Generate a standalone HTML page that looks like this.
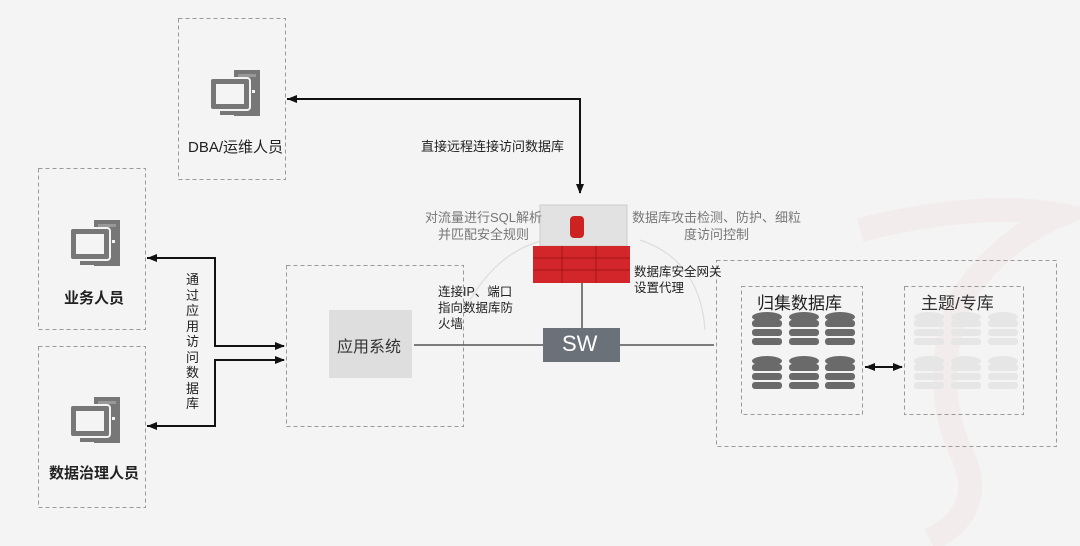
<!DOCTYPE html>
<html><head><meta charset="utf-8"><style>
body{margin:0;width:1080px;height:546px;overflow:hidden;background:#f4f4f4;font-family:"Liberation Sans","Noto Sans CJK SC",sans-serif}
.t{position:absolute;white-space:nowrap;color:#222}
</style></head><body>
<svg width="1080" height="546" style="position:absolute;left:0;top:0">
<defs>
<g id="pc">
<rect x="24" y="0" width="26" height="46" fill="#777"/>
<rect x="28" y="4" width="18" height="3" fill="#999"/>
<rect x="0" y="8" width="40" height="32" rx="3" fill="#777" stroke="#f4f4f4" stroke-width="2"/>
<rect x="6" y="14" width="28" height="20" fill="#f4f4f4"/>
<rect x="10" y="41" width="26" height="4" fill="#777"/>
<rect x="42" y="20" width="3" height="3" fill="#f4f4f4"/>
</g>
<g id="db">
<ellipse cx="15" cy="5" rx="15" ry="5"/>
<rect x="0" y="8" width="30" height="7" rx="3"/>
<rect x="0" y="17" width="30" height="7" rx="3"/>
<rect x="0" y="26" width="30" height="7" rx="3"/>
</g>
<marker id="ah" markerWidth="10" markerHeight="8" refX="9" refY="4" orient="auto" markerUnits="userSpaceOnUse"><path d="M0,0L10,4L0,8z" fill="#111"/></marker>
<marker id="ahs" markerWidth="10" markerHeight="8" refX="10" refY="4" orient="auto-start-reverse" markerUnits="userSpaceOnUse"><path d="M0,0L10,4L0,8z" fill="#111"/></marker>
</defs>
<path d="M860,230 Q980,200 1060,215 Q1000,240 960,300 Q930,380 960,450 Q990,510 930,540" fill="none" stroke="#f1e6e6" stroke-width="24" opacity="0.6"/>
<g fill="none" stroke="#999" stroke-dasharray="4,3">
<rect x="178.5" y="18.5" width="107" height="161"/>
<rect x="38.5" y="168.5" width="107" height="161"/>
<rect x="38.5" y="346.5" width="107" height="161"/>
<rect x="286.5" y="265.5" width="177" height="161"/>
<rect x="716.5" y="260.5" width="340" height="186"/>
<rect x="741.5" y="286.5" width="121" height="128"/>
<rect x="904.5" y="286.5" width="119" height="128"/>
</g>
<use href="#pc" x="210" y="70"/>
<use href="#pc" x="70" y="220"/>
<use href="#pc" x="70" y="397"/>
<path d="M287,99 H580 V193" fill="none" stroke="#111" stroke-width="2" marker-start="url(#ahs)" marker-end="url(#ah)"/>
<path d="M147,258 H215 V346 H284" fill="none" stroke="#111" stroke-width="2" marker-start="url(#ahs)" marker-end="url(#ah)"/>
<path d="M147,426 H215 V360 H284" fill="none" stroke="#111" stroke-width="2" marker-start="url(#ahs)" marker-end="url(#ah)"/>
<rect x="329" y="310" width="83" height="68" fill="#dedede"/>
<line x1="414" y1="345" x2="545" y2="345" stroke="#555" stroke-width="1.5"/>
<line x1="620" y1="345" x2="714" y2="345" stroke="#555" stroke-width="1.5"/>
<line x1="582" y1="283" x2="582" y2="328" stroke="#555" stroke-width="1.5"/>
<path d="M470,300 Q500,250 545,240 M640,240 Q700,260 705,330" fill="none" stroke="#ddd" stroke-width="1.2"/>
<rect x="543" y="328" width="77" height="34" fill="#6b7178"/>
<rect x="540" y="205" width="87" height="41" fill="#e2e2e2" stroke="#ccc"/>
<rect x="570" y="216" width="14" height="22" rx="4" fill="#c22"/>
<rect x="533" y="246" width="97" height="37" fill="#d3262a"/>
<g stroke="#a01518" stroke-width="1"><line x1="533" y1="258" x2="630" y2="258"/><line x1="533" y1="270" x2="630" y2="270"/><line x1="562" y1="246" x2="562" y2="283"/><line x1="596" y1="246" x2="596" y2="283"/></g>
<path d="M865,367 H902" stroke="#111" stroke-width="2" marker-start="url(#ahs)" marker-end="url(#ah)"/>
<g fill="#6a6a6a">
<use href="#db" x="752" y="312"/><use href="#db" x="789" y="312"/><use href="#db" x="825" y="312"/>
<use href="#db" x="752" y="356"/><use href="#db" x="789" y="356"/><use href="#db" x="825" y="356"/>
</g>
<g fill="#e6e6e6">
<use href="#db" x="914" y="312"/><use href="#db" x="951" y="312"/><use href="#db" x="988" y="312"/>
<use href="#db" x="914" y="356"/><use href="#db" x="951" y="356"/><use href="#db" x="988" y="356"/>
</g>
</svg>
<div class="t" style="left:188px;top:136px;font-size:15px">DBA/运维人员</div>
<div class="t" style="left:64px;top:287px;font-size:15px;font-weight:bold">业务人员</div>
<div class="t" style="left:49px;top:462px;font-size:15px;font-weight:bold">数据治理人员</div>
<div class="t" style="left:421px;top:136px;font-size:13px">直接远程连接访问数据库</div>
<div class="t" style="left:186px;top:272px;font-size:13px;line-height:15.5px;white-space:normal;width:14px">通过应用访问数据库</div>
<div class="t" style="left:337px;top:333px;font-size:16px;color:#333">应用系统</div>
<div class="t" style="left:562px;top:331px;font-size:22px;color:#fff">SW</div>
<div class="t" style="left:425px;top:209px;font-size:13px;color:#777;text-align:center;line-height:17px">对流量进行SQL解析<br>并匹配安全规则</div>
<div class="t" style="left:632px;top:209px;font-size:13px;color:#777;text-align:center;line-height:17px">数据库攻击检测、防护、细粒<br>度访问控制</div>
<div class="t" style="left:634px;top:264px;font-size:12.5px;line-height:16px">数据库安全网关<br>设置代理</div>
<div class="t" style="left:438px;top:284px;font-size:12.5px;line-height:16px">连接IP、端口<br>指向数据库防<br>火墙</div>
<div class="t" style="left:757px;top:289px;font-size:17px">归集数据库</div>
<div class="t" style="left:921px;top:289px;font-size:17px;color:#333">主题/专库</div>
</body></html>
